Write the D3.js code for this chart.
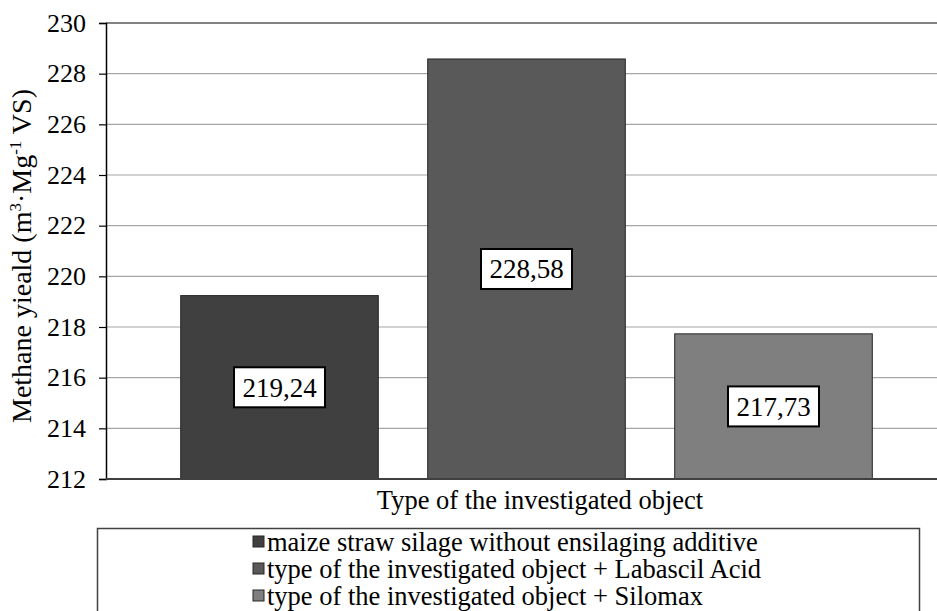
<!DOCTYPE html>
<html>
<head>
<meta charset="utf-8">
<script src="https://cdn.jsdelivr.net/npm/d3@7"></script>
<style>
  body { margin: 0; background: #fff; }
  svg text { font-family: "Liberation Serif", "DejaVu Serif", serif; fill: #000; }
</style>
</head>
<body>
<div id="chart"></div>
<script>
// data
const categories = ['maize straw silage without ensilaging additive',
    'type of the investigated object + Labascil Acid',
    'type of the investigated object + Silomax'];
const values = [219.24, 228.58, 217.73];
const valueLabels = ['219,24', '228,58', '217,73'];
const barColors = ['#404040', '#595959', '#7f7f7f'];
const yTicks = [212, 214, 216, 218, 220, 222, 224, 226, 228, 230];

const width = 937, height = 611;
const plot = { left: 106, right: 940, top: 23, bottom: 479 };
const serif = '"Liberation Serif", "DejaVu Serif", serif';

const svg = d3.select('#chart').append('svg')
    .attr('width', width)
    .attr('height', height);

const yScale = d3.scaleLinear()
    .domain([212, 230])
    .range([plot.bottom, plot.top]);

const xScale = d3.scaleBand()
    .domain(categories)
    .range([156, 897])
    .paddingInner(0.2)
    .paddingOuter(0.1);

// gridlines
svg.append('g')
    .selectAll('line')
    .data(yTicks.filter(t => t > 212 && t < 230))
    .enter().append('line')
    .attr('x1', plot.left)
    .attr('x2', plot.right)
    .attr('y1', d => yScale(d))
    .attr('y2', d => yScale(d))
    .attr('stroke', '#a6a6a6')
    .attr('stroke-width', 1.2);

// top border line
svg.append('line')
    .attr('x1', plot.left).attr('x2', plot.right)
    .attr('y1', yScale(230)).attr('y2', yScale(230))
    .attr('stroke', '#5a5a5a')
    .attr('stroke-width', 1.6);

// bars
svg.append('g')
    .selectAll('rect')
    .data(values)
    .enter().append('rect')
    .attr('x', (d, i) => xScale(categories[i]))
    .attr('y', d => yScale(d))
    .attr('width', xScale.bandwidth())
    .attr('height', d => plot.bottom - yScale(d))
    .attr('fill', (d, i) => barColors[i])
    .attr('stroke', '#262626')
    .attr('stroke-width', 1);

// value labels in the middle of bars
const labels = svg.append('g')
    .selectAll('g')
    .data(values)
    .enter().append('g')
    .attr('transform', (d, i) => {
        const cx = xScale(categories[i]) + xScale.bandwidth() / 2;
        const cy = (yScale(d) + plot.bottom) / 2;
        return `translate(${cx},${cy})`;
    });

labels.append('rect')
    .attr('x', -45.5)
    .attr('y', -20)
    .attr('width', 91)
    .attr('height', 40)
    .attr('fill', '#fff')
    .attr('stroke', '#000')
    .attr('stroke-width', 2);

labels.append('text')
    .attr('text-anchor', 'middle')
    .attr('dy', '0.35em')
    .attr('font-size', 27)
    .text((d, i) => valueLabels[i]);

// y axis
const yAxis = d3.axisLeft(yScale)
    .tickValues(yTicks)
    .tickSize(7)
    .tickPadding(13)
    .tickFormat(d3.format('d'));

const yG = svg.append('g')
    .attr('transform', `translate(${plot.left},0)`)
    .call(yAxis)
    .attr('font-family', serif);
yG.select('.domain').attr('stroke', '#000').attr('stroke-width', 1.5);
yG.selectAll('.tick line').attr('stroke', '#000').attr('stroke-width', 1.2);
yG.selectAll('.tick text')
    .attr('font-size', 26)
    .attr('fill', '#000');

// x axis line
svg.append('line')
    .attr('x1', plot.left).attr('x2', plot.right)
    .attr('y1', plot.bottom).attr('y2', plot.bottom)
    .attr('stroke', '#404040')
    .attr('stroke-width', 2);

// axis titles
svg.append('text')
    .attr('x', 540)
    .attr('y', 509)
    .attr('text-anchor', 'middle')
    .attr('font-size', 26.5)
    .text('Type of the investigated object');

const yTitle = svg.append('text')
    .attr('transform', `translate(31,256) rotate(-90)`)
    .attr('text-anchor', 'middle')
    .attr('font-size', 28);
yTitle.append('tspan').text('Methane yieald (m');
yTitle.append('tspan').attr('font-size', 17).attr('dy', -10).text('3');
yTitle.append('tspan').attr('dy', 10).text('\u00b7Mg');
yTitle.append('tspan').attr('font-size', 17).attr('dy', -10).text('-1');
yTitle.append('tspan').attr('dy', 10).text(' VS)');

// legend
svg.append('rect')
    .attr('x', 97.5)
    .attr('y', 528.5)
    .attr('width', 822)
    .attr('height', 100)
    .attr('fill', '#fff')
    .attr('stroke', '#404040')
    .attr('stroke-width', 1.5);

const legend = svg.append('g')
    .selectAll('g')
    .data(categories)
    .enter().append('g')
    .attr('transform', (d, i) => `translate(253,${542 + i * 27})`);

legend.append('rect')
    .attr('x', 0)
    .attr('y', -6)
    .attr('width', 11)
    .attr('height', 11)
    .attr('fill', (d, i) => barColors[i])
    .attr('stroke', '#262626')
    .attr('stroke-width', 1);

legend.append('text')
    .attr('x', 14)
    .attr('dy', '0.33em')
    .attr('font-size', 26.5)
    .text(d => d);
</script>
</body>
</html>
